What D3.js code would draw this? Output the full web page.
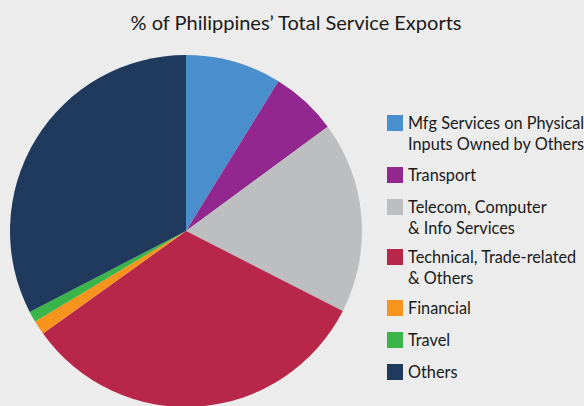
<!DOCTYPE html>
<html>
<head>
<meta charset="utf-8">
<script src="https://cdn.jsdelivr.net/npm/d3@7"></script>
<style>
  body { margin: 0; background: #ececec; }
  svg { display: block; font-family: Lato, 'Open Sans', sans-serif; }
</style>
</head>
<body>
<script>
'use strict';

// slice categories, clockwise from 12 o'clock
const categories = [
  ['Mfg Services on Physical', 'Inputs Owned by Others'],
  ['Transport'],
  ['Telecom, Computer', '& Info Services'],
  ['Technical, Trade-related', '& Others'],
  ['Financial'],
  ['Travel'],
  ['Others']
];
// share of total service exports (%)
const shares = [8.8, 6.1, 17.6, 32.6, 1.3, 1.0, 32.6];
const colors = ['#4a8fcd', '#92278f', '#bcbec0', '#b8264a', '#f7941d', '#39b54a', '#1f3a5c'];

const width = 584;
const height = 406;

const svg = d3.select('body')
  .append('svg')
  .attr('width', width)
  .attr('height', height);

svg.append('rect')
  .attr('width', width)
  .attr('height', height)
  .attr('fill', '#ececec');

// title
svg.append('text')
  .attr('x', 296)
  .attr('y', 30)
  .attr('text-anchor', 'middle')
  .style('font-size', '20px')
  .attr('fill', '#1a1a1a')
  .text('% of Philippines\u2019 Total Service Exports');

// pie
const data = shares.map((v, i) => ({ value: v, color: colors[i] }));
const pie = d3.pie().sort(null).value(d => d.value);
const arc = d3.arc().innerRadius(0).outerRadius(176);

svg.append('g')
  .attr('transform', 'translate(186, 231)')
  .selectAll('path')
  .data(pie(data))
  .enter()
  .append('path')
  .attr('d', arc)
  .attr('fill', d => d.data.color);

// legend
const legendY = [115, 167, 199, 249, 300, 332, 364];
const legend = svg.append('g')
  .selectAll('g')
  .data(categories)
  .enter()
  .append('g')
  .attr('transform', (d, i) => 'translate(387, ' + legendY[i] + ')');

legend.append('rect')
  .attr('width', 16)
  .attr('height', 16)
  .attr('fill', (d, i) => colors[i]);

legend.append('text')
  .attr('x', 21)
  .attr('y', 14)
  .style('font-size', '16.3px')
  .attr('fill', '#1a1a1a')
  .selectAll('tspan')
  .data(d => d)
  .enter()
  .append('tspan')
  .attr('x', 21)
  .attr('dy', (d, i) => i === 0 ? 0 : 21)
  .text(d => d);
</script>
</body>
</html>
